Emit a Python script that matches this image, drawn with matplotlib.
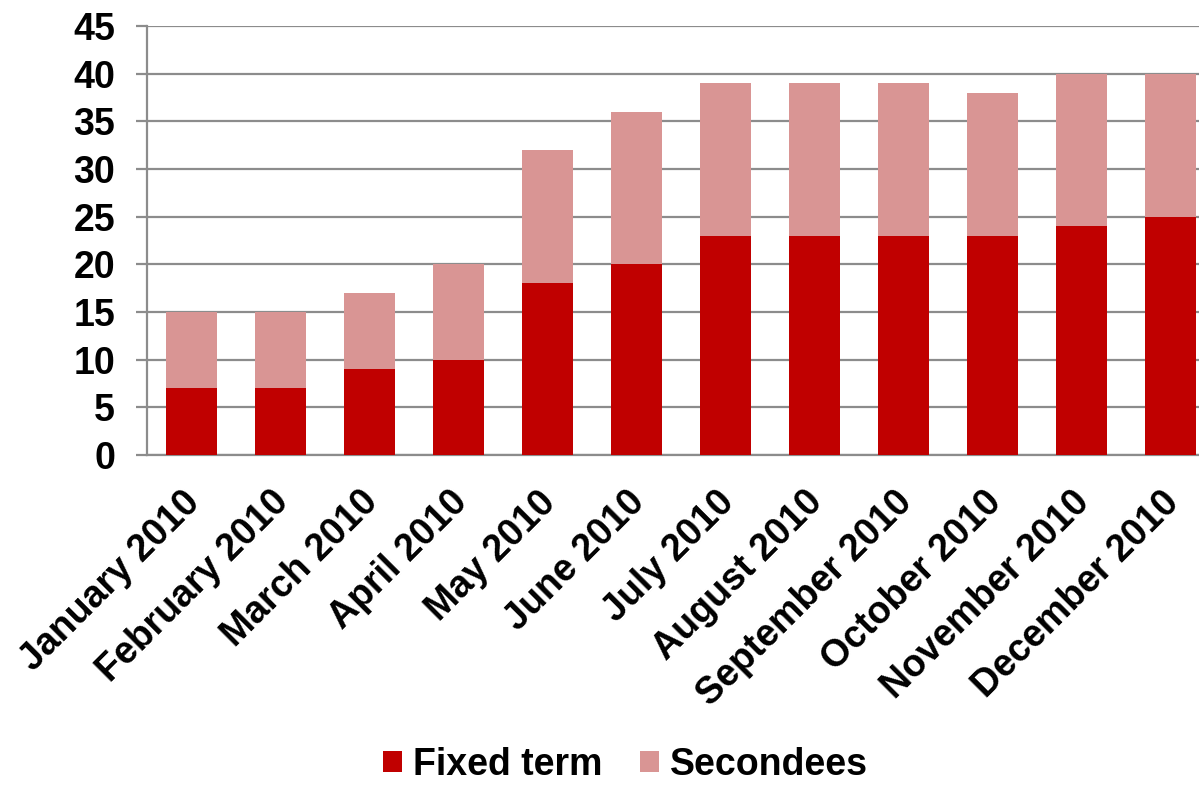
import numpy as np
import matplotlib.pyplot as plt
import matplotlib.transforms as mtransforms

months = ['January 2010', 'February 2010', 'March 2010', 'April 2010', 'May 2010',
          'June 2010', 'July 2010', 'August 2010', 'September 2010', 'October 2010',
          'November 2010', 'December 2010']
fixed_term = [7, 7, 9, 10, 18, 20, 23, 23, 23, 23, 24, 25]
secondees = [8, 8, 8, 10, 14, 16, 16, 16, 16, 15, 16, 15]

plt.rcParams['font.family'] = ['Liberation Sans', 'DejaVu Sans']
plt.rcParams['font.weight'] = 'bold'

fig = plt.figure(figsize=(11.99, 7.85), dpi=100)
ax = fig.add_axes([0.1226, 0.4204, 0.8907, 0.5465])

x = np.arange(len(months))
ax.bar(x, fixed_term, width=0.57, color='#C00000', label='Fixed term', zorder=3)
ax.bar(x, secondees, width=0.57, bottom=fixed_term, color='#D99594',
       label='Secondees', zorder=3)

ax.set_xlim(-0.5, len(months) - 0.5)
ax.set_ylim(0, 45)
ax.set_yticks(range(0, 46, 5))
ax.yaxis.grid(True, color='#8C8C8C', linewidth=1.6, zorder=0)
ax.set_axisbelow(True)

for side in ['top', 'right']:
    ax.spines[side].set_visible(False)
for side in ['left', 'bottom']:
    ax.spines[side].set_color('#8C8C8C')
    ax.spines[side].set_linewidth(1.6)

ax.tick_params(axis='y', length=8, width=1.6, color='#8C8C8C', labelsize=27, pad=15)
ax.tick_params(axis='x', length=0, labelsize=27, pad=10)
ax.set_xticks(x)
ax.set_xticklabels(months, rotation=45, ha='right', va='center', rotation_mode='anchor')

# nudge the rotated month labels down and slightly right of their ticks
shift = mtransforms.ScaledTranslation(3 / 100, -28 / 100, fig.dpi_scale_trans)
for lbl in ax.get_xticklabels():
    lbl.set_transform(lbl.get_transform() + shift)

fig.legend(loc='center', bbox_to_anchor=(0.522, 0.026), ncol=2, frameon=False,
           fontsize=27, handlelength=0.5, handleheight=0.5, handletextpad=0.3,
           columnspacing=1.0)

fig.savefig('out.png', dpi=100)
